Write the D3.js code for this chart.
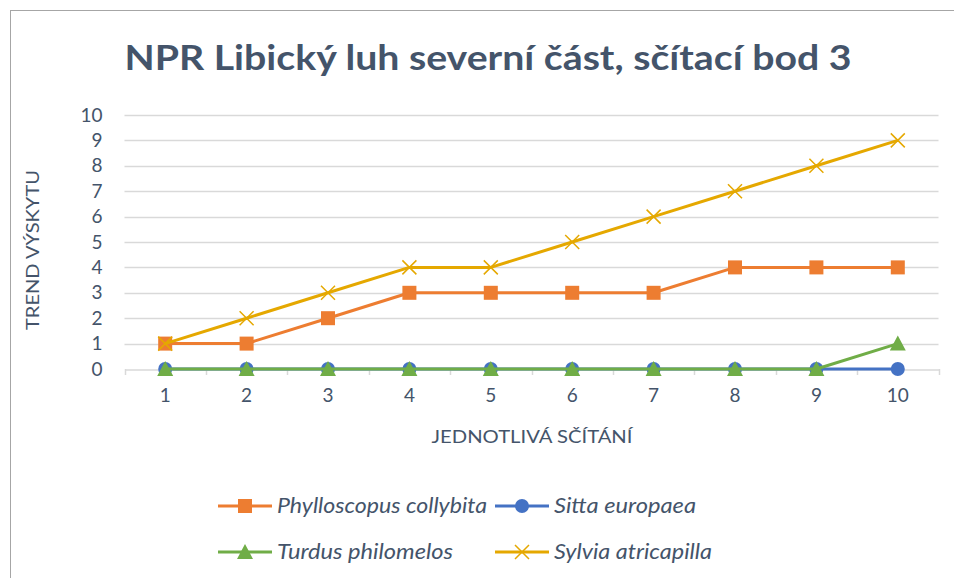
<!DOCTYPE html>
<html><head><meta charset="utf-8">
<script src="https://cdn.jsdelivr.net/npm/d3@7"></script>
<style>body{margin:0;background:#fff}svg{display:block}</style>
</head><body>
<svg id="c" width="954" height="578"></svg>
<script>
const categories = ["1","2","3","4","5","6","7","8","9","10"];
const yTicks = [0,1,2,3,4,5,6,7,8,9,10];
const phylloscopus = [1,1,2,3,3,3,3,4,4,4];
const sitta = [0,0,0,0,0,0,0,0,0,0];
const turdus = [0,0,0,0,0,0,0,0,0,1];
const sylvia = [1,2,3,4,4,5,6,7,8,9];
const seriesNames = ["Phylloscopus collybita","Sitta europaea","Turdus philomelos","Sylvia atricapilla"];

const series = [
  {name: seriesNames[0], values: phylloscopus, color: "#ed7d31", marker: "square", lw: 210},
  {name: seriesNames[1], values: sitta, color: "#4472c4", marker: "circle", lw: 142},
  {name: seriesNames[2], values: turdus, color: "#70ad47", marker: "triangle", lw: 176},
  {name: seriesNames[3], values: sylvia, color: "#e5a800", marker: "x", lw: 158}
];

const svg = d3.select("#c");
const textColor = "#44546a";
const font = "Lato, 'Open Sans', sans-serif";

svg.append("rect").attr("x",10.5).attr("y",10.5).attr("width",1000).attr("height",1000)
  .attr("fill","#fff").attr("stroke","#a6a6a6").attr("stroke-width",1);

const L = 124.5, R = 938.5, T = 115, B = 369;
const x = d3.scaleBand().domain(categories).range([L, R]);
const y = d3.scaleLinear().domain([0,10]).range([B, T]);

// gridlines
svg.append("g").selectAll("line").data(yTicks.filter(d=>d>0)).join("line")
  .attr("x1",L).attr("x2",R).attr("y1",d=>Math.round(y(d))+0.5).attr("y2",d=>Math.round(y(d))+0.5)
  .attr("stroke","#d9d9d9").attr("stroke-width",1.5);

// x axis
const xAxis = svg.append("g").attr("transform",`translate(0,${B+0.5})`)
  .call(d3.axisBottom(x).tickSize(0).tickPadding(19));
xAxis.select(".domain").attr("stroke","#d9d9d9").attr("stroke-width",1.5);
xAxis.selectAll("text").attr("fill",textColor).style("font-family",font).style("font-size","19px");
// category boundary ticks
const bounds = categories.map(c=>x(c)).concat([R]);
svg.append("g").selectAll("line").data(bounds).join("line")
  .attr("x1",d=>Math.round(d)+0.5).attr("x2",d=>Math.round(d)+0.5).attr("y1",B).attr("y2",B+6)
  .attr("stroke","#d9d9d9").attr("stroke-width",1.5);

// y axis labels
const yAxis = svg.append("g").attr("transform",`translate(${L},0)`)
  .call(d3.axisLeft(y).tickValues(yTicks).tickSize(0).tickPadding(22));
yAxis.select(".domain").remove();
yAxis.selectAll("text").attr("fill",textColor).style("font-family",font).style("font-size","19px");

// titles
svg.append("text").attr("x",488).attr("y",70).attr("text-anchor","middle")
  .attr("fill",textColor).style("font-family",font).style("font-weight","bold").style("font-size","34px")
  .attr("textLength",727).attr("lengthAdjust","spacingAndGlyphs")
  .text("NPR Libický luh severní část, sčítací bod 3");
svg.append("text").attr("x",532).attr("y",443).attr("text-anchor","middle")
  .attr("fill",textColor).style("font-family",font).style("font-size","18px")
  .attr("textLength",201).attr("lengthAdjust","spacingAndGlyphs")
  .text("JEDNOTLIVÁ SČÍTÁNÍ");
svg.append("text").attr("transform","translate(39,250) rotate(-90)").attr("text-anchor","middle")
  .attr("fill",textColor).style("font-family",font).style("font-size","18px")
  .attr("textLength",160).attr("lengthAdjust","spacingAndGlyphs")
  .text("TREND VÝSKYTU");

function drawMarker(g, type, color, cx, cy) {
  if (type === "square") {
    g.append("rect").attr("x",cx-7).attr("y",cy-7).attr("width",14).attr("height",14).attr("fill",color);
  } else if (type === "circle") {
    g.append("circle").attr("cx",cx).attr("cy",cy).attr("r",7).attr("fill",color);
  } else if (type === "triangle") {
    g.append("path").attr("d",`M${cx},${cy-8}L${cx+8},${cy+7}L${cx-8},${cy+7}Z`).attr("fill",color);
  } else if (type === "x") {
    g.append("path").attr("d",`M${cx-7},${cy-7}L${cx+7},${cy+7}M${cx+7},${cy-7}L${cx-7},${cy+7}`)
      .attr("stroke",color).attr("stroke-width",1.5).attr("fill","none");
  }
}

const cx = c => x(c) + x.bandwidth()/2;
const line = d3.line().x((d,i)=>cx(categories[i])).y(d=>y(d));
series.forEach(s => {
  const g = svg.append("g");
  g.append("path").datum(s.values).attr("d",line).attr("fill","none")
    .attr("stroke",s.color).attr("stroke-width",3).attr("stroke-linejoin","round");
  s.values.forEach((v,i)=>drawMarker(g, s.marker, s.color, cx(categories[i]), y(v)));
});

// legend
const legendPos = [[218,506],[495,506],[218,552],[495,552]];
series.forEach((s,i) => {
  const [lx, ly] = legendPos[i];
  const g = svg.append("g");
  g.append("line").attr("x1",lx).attr("x2",lx+54).attr("y1",ly).attr("y2",ly)
    .attr("stroke",s.color).attr("stroke-width",3);
  drawMarker(g, s.marker, s.color, lx+27, ly);
  g.append("text").attr("x",lx+59).attr("y",ly+7).attr("fill",textColor)
    .style("font-family",font).style("font-style","italic").style("font-size","21px")
    .attr("textLength",s.lw).attr("lengthAdjust","spacingAndGlyphs").text(s.name);
});
</script>
</body></html>
